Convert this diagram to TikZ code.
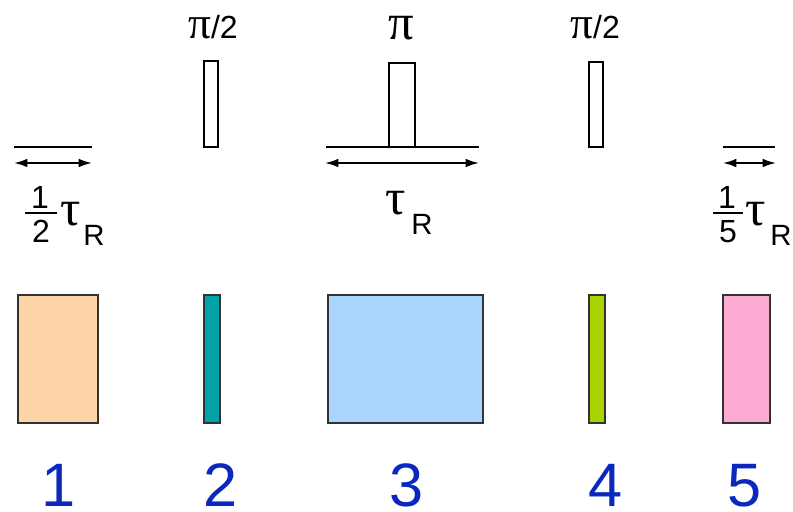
\documentclass[tikz,border=0pt]{standalone}
\usepackage{fontspec}
\setmainfont{Liberation Sans}
\newfontfamily\greekfont{Liberation Serif}
\usetikzlibrary{arrows.meta, positioning}

\definecolor{peach}{HTML}{FDD5A8}
\definecolor{tealbox}{HTML}{00A3A6}
\definecolor{skyblue}{HTML}{AAD6FE}
\definecolor{limebox}{HTML}{A8D200}
\definecolor{pinkbox}{HTML}{FEABD3}
\definecolor{numblue}{HTML}{0A28BE}

\begin{document}
\begin{tikzpicture}[
    x = 0.75pt, y = -0.75pt,
    > = {Latex[length=10pt, width=6.5pt]},
    pulse/.style={draw, line width=1.4pt, inner sep=0pt},
    block/.style={draw=black!80, line width=1pt, inner sep=0pt, minimum height=96pt},
    delay/.style={<->, line width=1.4pt},
    lbl/.style={inner sep=0pt, anchor=base, text height=17pt, text depth=0pt,
        font=\fontsize{24}{24}\selectfont},
    tau/.style={inner sep=0pt, anchor=base west, text height=14pt, text depth=0pt,
        font=\greekfont\fontsize{38}{38}\selectfont},
    sub/.style={inner sep=0pt, anchor=base west, text height=16pt, text depth=0pt,
        font=\fontsize{22}{22}\selectfont},
    num/.style={inner sep=0pt, anchor=base, text height=33pt, text depth=0pt,
        text=numblue, font=\fontsize{46}{46}\selectfont}
]
\useasboundingbox (0,0) rectangle (793,511);

% --- Pulses ---
\node[pulse, minimum width=10.5pt, minimum height=64.5pt] (p2) at (211,104) {};
\node[pulse, minimum width=19.5pt, minimum height=63pt] (p3) at (402,105) {};
\node[pulse, minimum width=10.5pt, minimum height=64pt] (p4) at (596,104.5) {};

\node[lbl] (t2) at (213,38) {{\greekfont\fontsize{34}{34}\selectfont π}/2};
\node[lbl] (t3) at (401,39) {{\greekfont\fontsize{38}{38}\selectfont π}};
\node[lbl] (t4) at (595,38) {{\greekfont\fontsize{34}{34}\selectfont π}/2};

% --- Delay 1 ---
\coordinate (l1a) at (14,147);
\coordinate (l1b) at (92,147);
\coordinate (d1a) at (14,163);
\coordinate (d1b) at (92,163);
\draw[line width=1.4pt] (l1a) -- (l1b);
\draw[delay] (d1a) -- (d1b);
\node[lbl] (f1n) at (40,208) {1};
\node[lbl] (f1d) at (41,242) {2};
\coordinate (f1a) at (25,213);
\coordinate (f1b) at (57,213);
\draw[line width=1.4pt] (f1a) -- (f1b);
\node[tau] (tau1) at (60,225) {τ};
\node[sub] (r1) at (83,245) {R};

% --- Delay 3 ---
\coordinate (l3a) at (326,147);
\coordinate (l3b) at (479,147);
\coordinate (d3a) at (325,163);
\coordinate (d3b) at (479,163);
\draw[line width=1.4pt] (l3a) -- (l3b);
\draw[delay] (d3a) -- (d3b);
\node[tau] (tau3) at (385,214) {τ};
\node[sub] (r3) at (411,234) {R};

% --- Delay 5 ---
\coordinate (l5a) at (723,147);
\coordinate (l5b) at (775,147);
\coordinate (d5a) at (723,163);
\coordinate (d5b) at (776,163);
\draw[line width=1.4pt] (l5a) -- (l5b);
\draw[delay] (d5a) -- (d5b);
\node[lbl] (f5n) at (727,208) {1};
\node[lbl] (f5d) at (728,242) {5};
\coordinate (f5a) at (713,213);
\coordinate (f5b) at (743,213);
\draw[line width=1.4pt] (f5a) -- (f5b);
\node[tau] (tau5) at (745,225) {τ};
\node[sub] (r5) at (770,245) {R};

% --- Blocks ---
\node[block, fill=peach, minimum width=60pt] (b1) at (58,359) {};
\node[block, fill=tealbox, minimum width=12pt] (b2) at (212,359) {};
\node[block, fill=skyblue, minimum width=116.25pt] (b3) at (405.5,359) {};
\node[block, fill=limebox, minimum width=12pt] (b4) at (597,359) {};
\node[block, fill=pinkbox, minimum width=35.25pt] (b5) at (746.5,359) {};

\node[num] (n1) at (59,506) {1};
\node[num] (n2) at (221,506) {2};
\node[num] (n3) at (407,506) {3};
\node[num] (n4) at (606,506) {4};
\node[num] (n5) at (745,506) {5};

\end{tikzpicture}
\end{document}
